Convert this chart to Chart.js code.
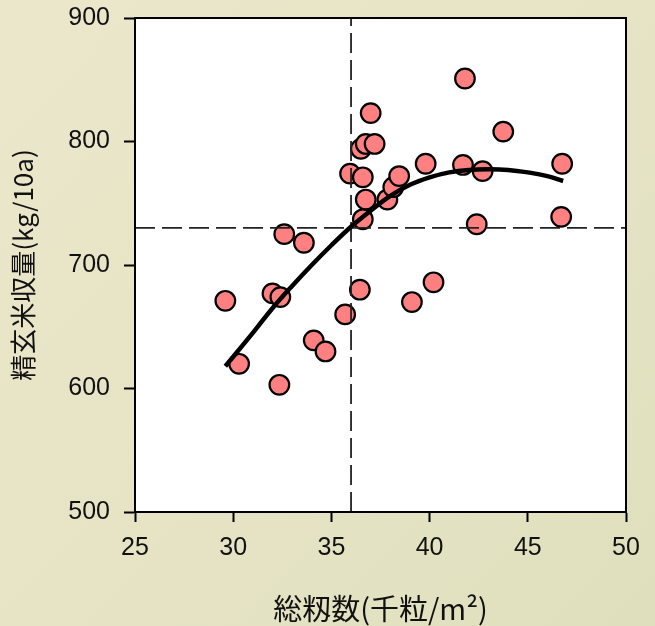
<!DOCTYPE html>
<html>
<head>
<meta charset="utf-8">
<script src="https://cdn.jsdelivr.net/npm/chart.js@4"></script>
<style>
  body { margin: 0; background: #e8e5c8; }
  canvas { display: block; }
</style>
</head>
<body>
<canvas id="scatterChart" width="655" height="626"></canvas>
<script>
// data
var grainX = [29.6, 30.3, 32.0, 32.4, 32.6, 32.35, 33.6, 34.1, 34.7, 35.7, 35.95, 36.45, 36.6, 36.75, 36.6, 36.5,
  36.75, 37.0, 37.2, 37.85, 38.15, 38.45, 39.8, 39.1, 40.2, 41.7, 41.8, 42.4, 42.7, 43.75, 46.75, 46.7];
var yieldY = [671, 620, 677, 674, 725, 603, 718, 639, 630, 660, 774, 680, 737, 753, 771, 794,
  798, 823, 798, 753, 763, 772, 782, 670, 686, 781, 851, 733, 776, 808, 782, 739];

// fitted curve as drawn
var curveX = [29.6, 31, 32, 33, 34, 35, 36, 37, 38, 39, 40, 41, 42, 43, 44, 45, 46, 46.8];
var curveY = [618, 645, 665, 683, 700, 716, 731, 744, 756, 765, 771, 775, 777, 777.5, 777, 775, 772, 768];

// dashed reference lines
var refX = 36;
var refY = 730;

var xTicks = [25, 30, 35, 40, 45, 50];
var yTicks = [500, 600, 700, 800, 900];

function toPoints(xs, ys) {
  return xs.map(function (x, i) { return { x: x, y: ys[i] }; });
}

var backgroundPlugin = {
  id: "background",
  beforeDraw: function (chart) {
    var ctx = chart.ctx;
    var a = chart.chartArea;
    ctx.save();
    var g = ctx.createLinearGradient(0, 0, chart.width, chart.height);
    g.addColorStop(0, "#ebe7cb");
    g.addColorStop(0.5, "#e6e4c5");
    g.addColorStop(1, "#dfdfbd");
    ctx.fillStyle = g;
    ctx.fillRect(0, 0, chart.width, chart.height);
    ctx.fillStyle = "#ffffff";
    ctx.fillRect(a.left, a.top, a.right - a.left, a.bottom - a.top);
    ctx.restore();
  },
  afterDraw: function (chart) {
    var ctx = chart.ctx;
    var a = chart.chartArea;
    ctx.save();
    ctx.strokeStyle = "#000";
    ctx.lineWidth = 2;
    ctx.strokeRect(a.left, a.top, a.right - a.left, a.bottom - a.top);
    ctx.restore();
  }
};

var ctx = document.getElementById("scatterChart").getContext("2d");
var chart = new Chart(ctx, {
  type: "scatter",
  data: {
    datasets: [
      {
        label: "data",
        data: toPoints(grainX, yieldY),
        backgroundColor: "#ff8080",
        borderColor: "#000",
        borderWidth: 2.2,
        pointRadius: 9.8,
        pointHoverRadius: 9.8,
        order: 3,
      },
      {
        type: "line",
        label: "refX",
        data: [{ x: refX, y: yTicks[0] }, { x: refX, y: yTicks[yTicks.length - 1] }],
        borderColor: "#222",
        borderWidth: 1.8,
        borderDash: [20, 7],
        pointRadius: 0,
        fill: false,
        order: 2,
      },
      {
        type: "line",
        label: "refY",
        data: [{ x: xTicks[0], y: refY }, { x: xTicks[xTicks.length - 1], y: refY }],
        borderColor: "#222",
        borderWidth: 1.8,
        borderDash: [20, 7],
        pointRadius: 0,
        fill: false,
        order: 2,
      },
      {
        type: "line",
        label: "fit",
        data: toPoints(curveX, curveY),
        borderColor: "#000",
        borderWidth: 4.5,
        pointRadius: 0,
        tension: 0.4,
        fill: false,
        order: 1,
      },
    ],
  },
  options: {
    responsive: false,
    animation: false,
    layout: { padding: { top: 18, right: 29, left: 0, bottom: 0 } },
    plugins: { legend: { display: false }, tooltip: { enabled: false } },
    scales: {
      x: {
        type: "linear",
        min: 25,
        max: 50,
        afterFit: function (s) { s.height = 114; s.paddingLeft = 0; s.paddingRight = 0; },
        ticks: { stepSize: 5, color: "#111", padding: 11, font: { family: "Liberation Sans", size: 25 } },
        grid: { drawOnChartArea: false, tickLength: 10, tickWidth: 2, tickColor: "#000" },
        border: { color: "#000", width: 2 },
        title: {
          display: true,
          text: "総籾数(千粒/m²)",
          color: "#111",
          font: { family: "Noto Sans CJK JP", size: 29 },
          padding: { top: 0, bottom: 0 },
        },
      },
      y: {
        min: 500,
        max: 900,
        afterFit: function (s) { s.width = 135; s.paddingTop = 0; s.paddingBottom = 0; },
        ticks: { stepSize: 100, color: "#111", padding: 14, font: { family: "Liberation Sans", size: 25 } },
        grid: { drawOnChartArea: false, tickLength: 11, tickWidth: 2, tickColor: "#000" },
        border: { color: "#000", width: 2 },
        title: {
          display: true,
          text: "精玄米収量(kg/10a)",
          color: "#111",
          font: { family: "Noto Sans CJK JP", size: 26 },
          padding: { top: 8, bottom: 0 },
        },
      },
    },
  },
  plugins: [backgroundPlugin],
});
</script>
</body>
</html>
